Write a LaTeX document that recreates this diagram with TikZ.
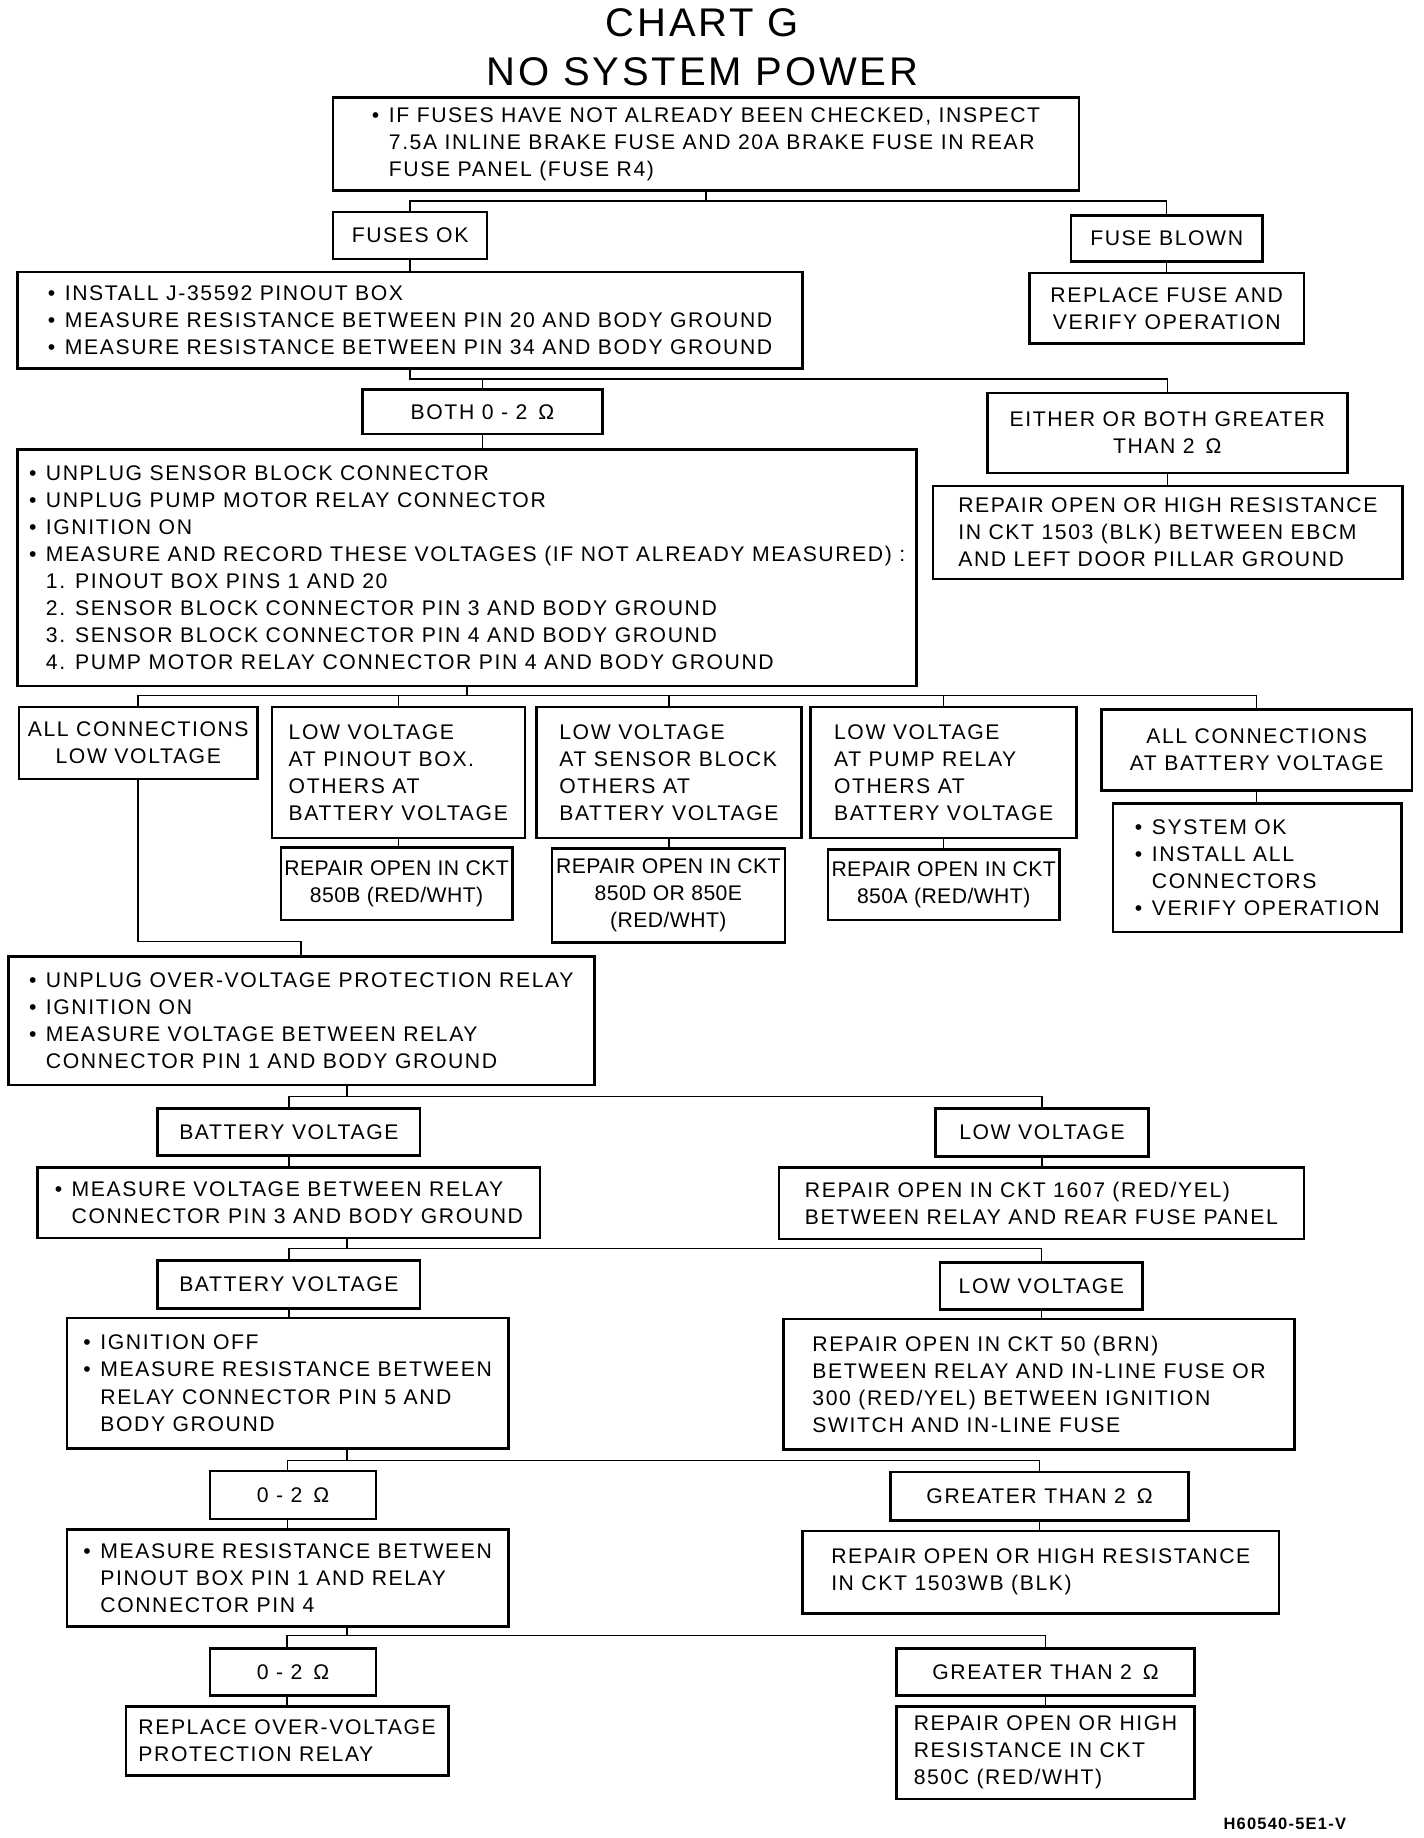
\documentclass[tikz,border=0pt]{standalone}
\usepackage{fontspec}
\setmainfont{Liberation Sans}[LetterSpace=7.5]
\newfontfamily\titlefont{Liberation Sans}[LetterSpace=7]
\newcommand\bul{\makebox[0.8em][l]{\textbullet}}
\newcommand\ind{\hspace*{0.8em}}
\begin{document}
\begin{tikzpicture}[x=0.5pt,y=-0.5pt,
    box/.style={draw, line width=1.1pt, inner sep=3pt, align=left, font=\fontsize{9}{11.5}\selectfont},
    cbox/.style={box, align=center},
    tight/.style={cbox, inner xsep=1.5pt, font=\fontsize{9}{11.5}\selectfont\addfontfeature{LetterSpace=2}},
    link/.style={line width=0.65pt}]
\useasboundingbox (0,0) rectangle (1210,1562);
\node[font=\titlefont\fontsize{17}{20}\selectfont] (title) at (597,19) {CHART G};
\node[font=\titlefont\fontsize{17}{20}\selectfont] (title2) at (597,61) {NO SYSTEM POWER};
\node[box, minimum width=317pt, minimum height=39.5pt] (b1) at (600,122.5)
  {\bul IF FUSES HAVE NOT ALREADY BEEN CHECKED, INSPECT\\
   \ind 7.5A INLINE BRAKE FUSE AND 20A BRAKE FUSE IN REAR\\
   \ind FUSE PANEL (FUSE R4)};
\node[cbox, minimum width=65.5pt, minimum height=20pt] (ok) at (348.5,200) {FUSES OK};
\node[cbox, minimum width=81.5pt, minimum height=19.5pt] (blown) at (991.5,202.5) {FUSE BLOWN};
\node[box, minimum width=333.5pt, minimum height=41pt] (inst) at (348.5,272)
  {\bul INSTALL J-35592 PINOUT BOX\\
   \bul MEASURE RESISTANCE BETWEEN PIN 20 AND BODY GROUND\\
   \bul MEASURE RESISTANCE BETWEEN PIN 34 AND BODY GROUND};
\node[cbox, minimum width=116.5pt, minimum height=30pt] (repl) at (991.5,262) {REPLACE FUSE AND\\VERIFY OPERATION};
\node[cbox, minimum width=102pt, minimum height=19pt] (both) at (410,350) {BOTH 0 - 2 \,Ω};
\node[cbox, minimum width=153pt, minimum height=34pt] (either) at (992,368) {EITHER OR BOTH GREATER\\THAN 2 \,Ω};
\node[box, minimum width=199.5pt, minimum height=39.5pt] (rep1503) at (992.5,452.5)
  {REPAIR OPEN OR HIGH RESISTANCE\\IN CKT 1503 (BLK) BETWEEN EBCM\\AND LEFT DOOR PILLAR GROUND};
\node[box, minimum width=382pt, minimum height=100.5pt] (unpl) at (397,482.5)
  {\bul UNPLUG SENSOR BLOCK CONNECTOR\\
   \bul UNPLUG PUMP MOTOR RELAY CONNECTOR\\
   \bul IGNITION ON\\
   \bul MEASURE AND RECORD THESE VOLTAGES (IF NOT ALREADY MEASURED) :\\
   \ind 1. PINOUT BOX PINS 1 AND 20\\
   \ind 2. SENSOR BLOCK CONNECTOR PIN 3 AND BODY GROUND\\
   \ind 3. SENSOR BLOCK CONNECTOR PIN 4 AND BODY GROUND\\
   \ind 4. PUMP MOTOR RELAY CONNECTOR PIN 4 AND BODY GROUND};
\node[cbox, minimum width=101.5pt, minimum height=30.5pt] (alllow) at (117.5,631.5) {ALL CONNECTIONS\\LOW VOLTAGE};
\node[box, minimum width=107.5pt, minimum height=55.5pt] (lvpin) at (338.5,656.5) {LOW VOLTAGE\\AT PINOUT BOX.\\OTHERS AT\\BATTERY VOLTAGE};
\node[box, minimum width=112.5pt, minimum height=55.5pt] (lvsen) at (568.5,656.5) {LOW VOLTAGE\\AT SENSOR BLOCK\\OTHERS AT\\BATTERY VOLTAGE};
\node[box, minimum width=113pt, minimum height=55.5pt] (lvpump) at (802,656.5) {LOW VOLTAGE\\AT PUMP RELAY\\OTHERS AT\\BATTERY VOLTAGE};
\node[cbox, minimum width=132pt, minimum height=34.5pt] (allbat) at (1068,637.5) {ALL CONNECTIONS\\AT BATTERY VOLTAGE};
\node[tight, minimum width=97pt, minimum height=31pt] (r850b) at (337,751) {REPAIR OPEN IN CKT\\850B (RED/WHT)};
\node[tight, minimum width=99pt, minimum height=40pt] (r850d) at (568,761) {REPAIR OPEN IN CKT\\850D OR 850E\\(RED/WHT)};
\node[tight, minimum width=96pt, minimum height=30pt] (r850a) at (802,752) {REPAIR OPEN IN CKT\\850A (RED/WHT)};
\node[box, inner xsep=2pt, minimum width=122.5pt, minimum height=54.5pt] (sysok) at (1068.5,737.5)
  {\bul SYSTEM OK\\\bul INSTALL ALL\\\ind CONNECTORS\\\bul VERIFY OPERATION};
\node[box, minimum width=249pt, minimum height=54.5pt] (ov) at (256,867.5)
  {\bul UNPLUG OVER-VOLTAGE PROTECTION RELAY\\
   \bul IGNITION ON\\
   \bul MEASURE VOLTAGE BETWEEN RELAY\\
   \ind CONNECTOR PIN 1 AND BODY GROUND};
\node[cbox, minimum width=111.5pt, minimum height=20pt] (bat1) at (245.5,962) {BATTERY VOLTAGE};
\node[cbox, minimum width=90.5pt, minimum height=20.5pt] (low1) at (885.5,962.5) {LOW VOLTAGE};
\node[box, minimum width=213.5pt, minimum height=30pt] (mp3) at (245.5,1022)
  {\bul MEASURE VOLTAGE BETWEEN RELAY\\\ind CONNECTOR PIN 3 AND BODY GROUND};
\node[box, minimum width=223pt, minimum height=30.5pt] (r1607) at (885,1022.5)
  {REPAIR OPEN IN CKT 1607 (RED/YEL)\\BETWEEN RELAY AND REAR FUSE PANEL};
\node[cbox, minimum width=111.5pt, minimum height=20.5pt] (bat2) at (245.5,1091.5) {BATTERY VOLTAGE};
\node[cbox, minimum width=86pt, minimum height=20pt] (low2) at (885,1093) {LOW VOLTAGE};
\node[box, minimum width=187.5pt, minimum height=55.5pt] (ign) at (244.5,1175.5)
  {\bul IGNITION OFF\\\bul MEASURE RESISTANCE BETWEEN\\\ind RELAY CONNECTOR PIN 5 AND\\\ind BODY GROUND};
\node[box, minimum width=217pt, minimum height=55.5pt] (r50) at (883,1176.5)
  {REPAIR OPEN IN CKT 50 (BRN)\\BETWEEN RELAY AND IN-LINE FUSE OR\\300 (RED/YEL) BETWEEN IGNITION\\SWITCH AND IN-LINE FUSE};
\node[cbox, minimum width=70.5pt, minimum height=20.5pt] (z1) at (249,1270.5) {0 - 2 \,Ω};
\node[cbox, minimum width=126.5pt, minimum height=20.5pt] (gt1) at (883.5,1271.5) {GREATER THAN 2 \,Ω};
\node[box, minimum width=187.5pt, minimum height=41pt] (mpin) at (244.5,1341)
  {\bul MEASURE RESISTANCE BETWEEN\\\ind PINOUT BOX PIN 1 AND RELAY\\\ind CONNECTOR PIN 4};
\node[box, minimum width=202.5pt, minimum height=35pt] (rwb) at (884.5,1336)
  {REPAIR OPEN OR HIGH RESISTANCE\\IN CKT 1503WB (BLK)};
\node[cbox, minimum width=70.5pt, minimum height=20pt] (z2) at (249,1421) {0 - 2 \,Ω};
\node[cbox, minimum width=126.5pt, minimum height=20pt] (gt2) at (888.5,1421) {GREATER THAN 2 \,Ω};
\node[box, minimum width=137pt, minimum height=29.5pt] (rov) at (244,1479.5) {REPLACE OVER-VOLTAGE\\PROTECTION RELAY};
\node[box, minimum width=126.5pt, minimum height=39.5pt] (r850c) at (888.5,1489.5)
  {REPAIR OPEN OR HIGH\\RESISTANCE IN CKT\\850C (RED/WHT)};
\node[anchor=east, font=\bfseries\fontsize{7}{8}\selectfont] (code) at (1151,1550) {H60540-5E1-V};
\draw[link] (b1.south) -- (b1.south |- 0,171);
\draw[link] (ok.north) |- (blown.north |- 0,171) -- (blown.north);
\draw[link] (inst.south) |- (either.north |- 0,322) -- (either.north);
\draw[link] (both.north) -- (both.north |- 0,322);
\draw[link] (both.south) -- (both.south |- unpl.north);
\draw[link] (unpl.south) -- (unpl.south |- 0,591);
\draw[link] (alllow.north) |- (allbat.north |- 0,591) -- (allbat.north);
\foreach \n in {lvpin,lvsen,lvpump}
  \draw[link] (\n.north) -- (\n.north |- 0,591);
\foreach \a/\b in {ok/inst,blown/repl,either/rep1503,lvpin/r850b,lvsen/r850d,lvpump/r850a,allbat/sysok,
    bat1/mp3,low1/r1607,bat2/ign,low2/r50,gt1/rwb,gt2/r850c}
  \draw[link] (\a.south) -- (\a.south |- \b.north);
\draw[link] (z1.south -| mpin.north) -- (mpin.north);
\draw[link] (z2.south -| rov.north) -- (rov.north);
\draw[link] (alllow.south) |- (ov.north |- 0,800) -- (ov.north);
\draw[link] (295,0 |- ov.south) -- (295,932);
\draw[link] (bat1.north) |- (low1.north |- 0,932) -- (low1.north);
\draw[link] (295,0 |- mp3.south) -- (295,1061);
\draw[link] (bat2.north) |- (low2.north |- 0,1061) -- (low2.north);
\draw[link] (295,0 |- ign.south) -- (295,1241);
\draw[link] (z1.north -| mpin.north) |- (gt1.north |- 0,1241) -- (gt1.north);
\draw[link] (295,0 |- mpin.south) -- (295,1390);
\draw[link] (z2.north -| rov.north) |- (gt2.north |- 0,1390) -- (gt2.north);
\end{tikzpicture}
\end{document}
